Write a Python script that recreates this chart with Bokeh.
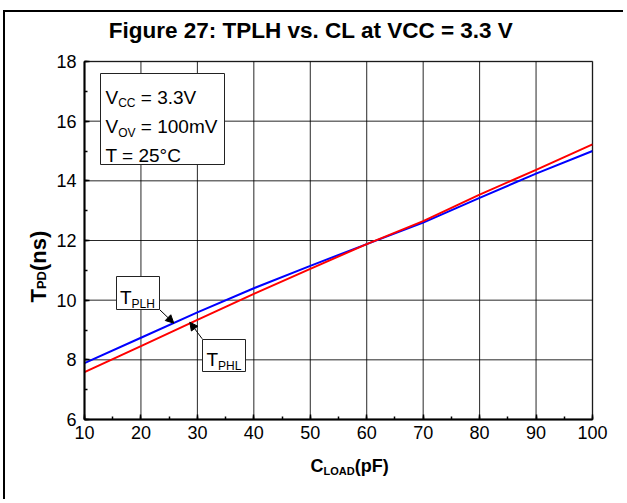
import math
from bokeh.plotting import figure
from bokeh.models import (Range1d, SingleIntervalTicker, Label, BoxAnnotation,
                          Arrow, NormalHead, LinearAxis)
from bokeh.embed import file_html
from bokeh.resources import INLINE

# ---- data ----
c_load = [10, 20, 30, 40, 50, 60, 70, 80, 90, 100]
tplh = [7.89, 8.74, 9.59, 10.40, 11.15, 11.88, 12.60, 13.43, 14.24, 15.00]
tphl = [7.59, 8.46, 9.34, 10.21, 11.05, 11.88, 12.65, 13.54, 14.37, 15.22]
x_ticks = [10, 20, 30, 40, 50, 60, 70, 80, 90, 100]
x_tick_labels = ["10", "20", "30", "40", "50", "60", "70", "80", "90", "100"]
y_ticks = [6, 8, 10, 12, 14, 16, 18]
y_tick_labels = ["6", "8", "10", "12", "14", "16", "18"]
title_text = "Figure 27: TPLH vs. CL at VCC = 3.3 V"

# ---- layout (page pixels) ----
W, H = 620, 489
OX, OY = 5, 12              # canvas origin on page
FL, FR, FT, FB = 84, 592, 61, 419   # plot box on page
X0, X1, Y0, Y1 = 10, 100, 6, 18
SX = (FR - FL) / (X1 - X0)
SY = (FB - FT) / (Y1 - Y0)


def dx(px):
    return X0 + (px - FL) / SX


def dy(py):
    return Y0 + (FB - py) / SY


# the frame covers the whole canvas; the plot box is placed by the ranges
x_range = Range1d(dx(OX), dx(OX + W))
y_range = Range1d(dy(OY + H), dy(OY))

p = figure(width=W, height=H, x_range=x_range, y_range=y_range,
           output_backend="svg", toolbar_location=None,
           x_axis_location=None, y_axis_location=None,
           min_border=0, min_border_left=0, min_border_right=0,
           min_border_top=0, min_border_bottom=0)
p.styles = {"position": "relative", "left": "3px", "top": "10px",
            "border-left": "2px solid black", "border-top": "2px solid black"}
p.background_fill_color = "white"
p.border_fill_color = "white"
p.outline_line_color = None
p.xgrid.visible = False
p.ygrid.visible = False

# grid lines from tick lists
p.segment(x0=x_ticks, y0=[Y0] * len(x_ticks), x1=x_ticks, y1=[Y1] * len(x_ticks),
          line_color="black", line_alpha=0.85, line_width=1)
p.segment(x0=[X0] * len(y_ticks), y0=y_ticks, x1=[X1] * len(y_ticks), y1=y_ticks,
          line_color="black", line_alpha=0.85, line_width=1)

# data
p.line(c_load, tplh, line_color="#0000FF", line_width=2)
p.line(c_load, tphl, line_color="#FF0000", line_width=2)

# plot box outline (top / right)
p.add_layout(BoxAnnotation(left=X0, right=X1, bottom=Y0, top=Y1, level="annotation",
                           fill_alpha=0, line_color="black", line_width=2))

xt = SingleIntervalTicker(interval=10, num_minor_ticks=2)
yt = SingleIntervalTicker(interval=2, num_minor_ticks=2)
xaxis = LinearAxis(ticker=xt, fixed_location=Y0, bounds=(X0, X1))
yaxis = LinearAxis(ticker=yt, fixed_location=X0, bounds=(Y0, Y1))
xaxis.major_label_overrides = {v: s for v, s in zip(x_ticks, x_tick_labels)}
yaxis.major_label_overrides = {v: s for v, s in zip(y_ticks, y_tick_labels)}
for ax in (xaxis, yaxis):
    ax.axis_line_width = 2
    ax.axis_line_color = "black"
    ax.major_tick_in = 5
    ax.major_tick_out = 0
    ax.minor_tick_in = 3
    ax.minor_tick_out = 0
    ax.major_tick_line_color = "black"
    ax.minor_tick_line_color = "black"
    ax.major_tick_line_width = 1.5
    ax.minor_tick_line_width = 1.5
    ax.major_label_text_font = "Liberation Sans"
    ax.major_label_text_font_size = "18px"
    ax.major_label_text_color = "black"
yaxis.major_label_standoff = 8
xaxis.major_label_standoff = 6
p.add_layout(xaxis, "below")
p.add_layout(yaxis, "left")


def lab(text, px, py, size, bold=False, angle=0.0, align="left"):
    p.add_layout(Label(x=dx(px), y=dy(py), text=text, level="overlay",
                       text_font="Liberation Sans", text_font_size=f"{size}px",
                       text_font_style="bold" if bold else "normal",
                       text_align=align, text_baseline="alphabetic",
                       angle=angle, text_color="black"))


def box(l, r, t, b):
    p.add_layout(BoxAnnotation(left=dx(l), right=dx(r), top=dy(t), bottom=dy(b),
                               level="overlay",
                               fill_color="white", fill_alpha=1.0,
                               line_color="#222222", line_width=1, line_alpha=1.0))


# boxes first (underneath their texts)
box(100, 224, 73, 164)
box(116, 159, 276, 309)
box(202, 245, 339, 371)

for (sx, sy, ex, ey) in [(159.3, 309.3, 173.3, 322.7), (201.7, 338.3, 189.3, 321.7)]:
    p.add_layout(Arrow(end=NormalHead(size=8, fill_color="black", line_color="black", line_width=1),
                       x_start=dx(sx), y_start=dy(sy), x_end=dx(ex), y_end=dy(ey),
                       level="overlay", line_color="black", line_width=1))

# title
lab(title_text, 310.5, 30, 22.5, bold=True, align="center")

# condition box texts
lab("V", 105, 96.5, 19)
lab("CC", 117.7, 102.5, 12)
lab("= 3.3V", 140.3, 96.5, 19)
lab("V", 105, 126, 19)
lab("OV", 117.7, 132, 12)
lab("= 100mV", 140.3, 126, 19)
lab("T = 25\u00b0C", 105, 154.5, 19)

# series labels
lab("T", 119.5, 296.5, 19)
lab("PLH", 131.1, 303, 12)
lab("T", 206, 359, 19)
lab("PHL", 217.6, 365.5, 12)

# axis titles
lab("C", 310, 465, 18, bold=True)
lab("LOAD", 323, 470, 11, bold=True)
lab("(pF)", 354.2, 465, 18, bold=True)

lab("T", 38, 302, 22, bold=True, angle=math.pi / 2)
lab("PD", 41, 288.6, 13, bold=True, angle=math.pi / 2)
lab("(ns)", 38, 270.5, 22, bold=True, angle=math.pi / 2)

open("out.html", "w").write(file_html(p, INLINE))
